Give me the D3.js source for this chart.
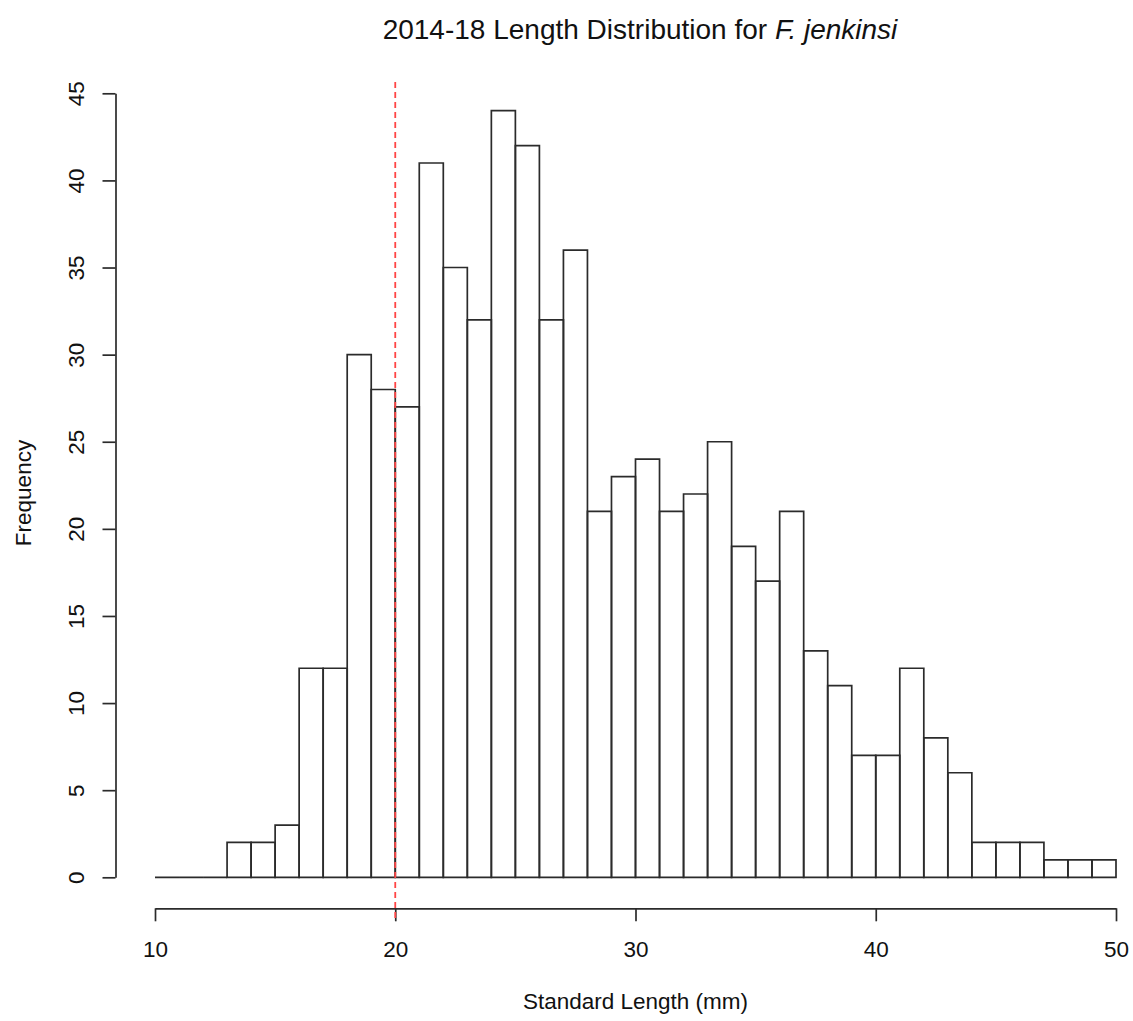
<!DOCTYPE html>
<html>
<head>
<meta charset="utf-8">
<script src="https://cdn.jsdelivr.net/npm/d3@7"></script>
<style>
  body { margin: 0; background: #fff; }
  svg { display: block; font-family: "Liberation Sans", Arial, sans-serif; }
</style>
</head>
<body>
<svg id="chart" width="1133" height="1021"></svg>
<script>
// Data: histogram bins (width 1 mm) and counts
const binStarts = [10,11,12,13,14,15,16,17,18,19,20,21,22,23,24,25,26,27,28,29,30,31,32,33,34,35,36,37,38,39,40,41,42,43,44,45,46,47,48,49];
const counts    = [0,0,0,2,2,3,12,12,30,28,27,41,35,32,44,42,32,36,21,23,24,21,22,25,19,17,21,13,11,7,7,12,8,6,2,2,2,1,1,1];
const xTicks = [10,20,30,40,50];
const yTicks = [0,5,10,15,20,25,30,35,40,45];
const cutoff = [20];

const svg = d3.select("#chart");
const x = d3.scaleLinear().domain([10, 50]).range([155, 1116]);
const y = d3.scaleLinear().domain([0, 45]).range([877.3, 93.3]);
const stroke = "#2b2b2b";

// bars (drawn as closed paths so zero-count bins still show as a baseline segment)
svg.append("g").selectAll("path")
  .data(binStarts.map((b, i) => ({b, c: counts[i]})))
  .join("path")
  .attr("d", d => `M${x(d.b)},${y(0)}V${y(d.c)}H${x(d.b + 1)}V${y(0)}Z`)
  .attr("fill", "none")
  .attr("stroke", stroke)
  .attr("stroke-width", 1.7);

// y axis
const yAxis = svg.append("g")
  .attr("transform", "translate(115.5,0)")
  .call(d3.axisLeft(y).tickValues(yTicks).tickSize(13).tickSizeOuter(0));
yAxis.select(".domain").attr("stroke", stroke).attr("stroke-width", 1.7);
yAxis.selectAll(".tick line").attr("stroke", stroke).attr("stroke-width", 1.7);
yAxis.selectAll(".tick text").each(function(){
  d3.select(this)
    .attr("x", 0).attr("y", 0).attr("dy", null)
    .attr("font-size", 22.5).attr("fill", "#111")
    .attr("transform", "translate(-31.5,0) rotate(-90)")
    .style("text-anchor", "middle");
});

// x axis
const xAxis = svg.append("g")
  .attr("transform", "translate(0,908.3)")
  .call(d3.axisBottom(x).tickValues(xTicks).tickSize(13).tickSizeOuter(0));
xAxis.select(".domain").attr("stroke", stroke).attr("stroke-width", 1.7);
xAxis.selectAll(".tick line").attr("stroke", stroke).attr("stroke-width", 1.7);
xAxis.selectAll(".tick text")
  .attr("font-size", 22.5).attr("fill", "#111")
  .attr("y", 48.7).attr("dy", null);

// cutoff line
svg.append("g").selectAll("line")
  .data(cutoff)
  .join("line")
  .attr("x1", d => x(d)).attr("x2", d => x(d))
  .attr("y1", 82).attr("y2", 921)
  .attr("stroke", "#ff4545")
  .attr("stroke-width", 1.8)
  .attr("stroke-dasharray", "6,4");

// title
const title = svg.append("text")
  .attr("x", 640).attr("y", 39)
  .attr("text-anchor", "middle")
  .attr("font-size", 28)
  .attr("fill", "#111");
title.append("tspan").text("2014-18 Length Distribution for ");
title.append("tspan").attr("font-style", "italic").text("F. jenkinsi");

// axis labels
svg.append("text")
  .attr("x", 635.5).attr("y", 1009)
  .attr("text-anchor", "middle")
  .attr("font-size", 22.5).attr("fill", "#111")
  .text("Standard Length (mm)");
svg.append("text")
  .attr("transform", "translate(31,493) rotate(-90)")
  .attr("text-anchor", "middle")
  .attr("font-size", 22.5).attr("fill", "#111")
  .text("Frequency");
</script>
</body>
</html>
